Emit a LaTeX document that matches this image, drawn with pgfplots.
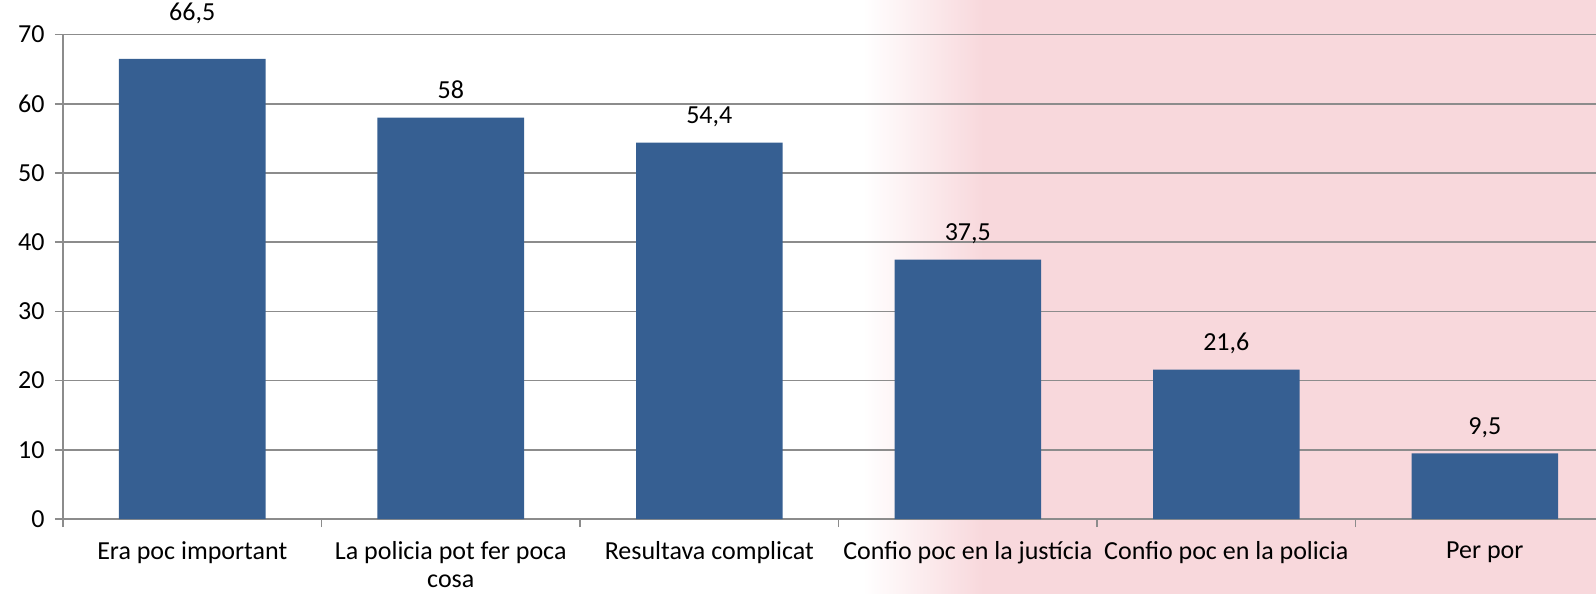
\documentclass[border=0pt]{standalone}
\usepackage{fontspec}
\setmainfont{Carlito}
\usepackage{pgfplots}
\pgfplotsset{compat=1.18}
\definecolor{barblue}{HTML}{365F92}
\definecolor{gridgray}{HTML}{8C8C8C}
\definecolor{wmpink}{HTML}{F8D8DC}

\begin{document}
\begin{tikzpicture}
% faint watermark tint behind the plot (right half)
\shade[left color=white, right color=wmpink] (400pt,-37.5pt) rectangle (460pt,259.5pt);
\fill[wmpink] (460pt,-37.5pt) rectangle (766.5pt,259.5pt);
\begin{axis}[
    at={(0,0)}, anchor=south west,
    scale only axis,
    width=766.5pt, height=242.2pt,
    font=\fontsize{13}{14}\selectfont,
    ybar, bar width=0.567, bar shift=0pt,
    xmin=-0.5, xmax=5.43,
    ymin=0, ymax=70,
    ytick={0,10,...,70},
    ymajorgrids,
    grid style={gridgray, line width=0.8pt},
    axis x line*=bottom, axis y line*=left,
    axis line style={gridgray, line width=0.8pt},
    tick style={gridgray, line width=0.8pt},
    major tick length=4pt,
    tick align=outside,
    yticklabel style={inner sep=0pt, anchor=east, xshift=-5pt},
    xtick={-0.5,0.5,...,5.5},
    xticklabels={},
    extra x ticks={0,1,2,3,4,5},
    extra x tick labels={Era poc important,{La policia pot fer poca\\cosa},Resultava complicat,Confio poc en la justícia,Confio poc en la policia,Per por},
    extra x tick style={major tick length=0pt, grid=none,
        tick label style={align=center, anchor=north, inner sep=0pt, yshift=-11pt}},
    visualization depends on={rawy \as \rawy},
    nodes near coords,
    nodes near coords style={font=\fontsize{13}{14}\selectfont, anchor=base, inner sep=0pt,
        yshift={ifthenelse(\rawy>60,19pt,9.5pt)}},
    /pgf/number format/use comma,
    /pgf/number format/assume math mode=true,
    clip=false,
]
\addplot[fill=barblue, draw=none] coordinates {(0,66.5) (1,58) (2,54.4) (3,37.5) (4,21.6) (5,9.5)};
\end{axis}
\pgfresetboundingbox
\path[use as bounding box] (-31.5pt,-37.5pt) rectangle (766.5pt,259.5pt);
\end{tikzpicture}
\end{document}
